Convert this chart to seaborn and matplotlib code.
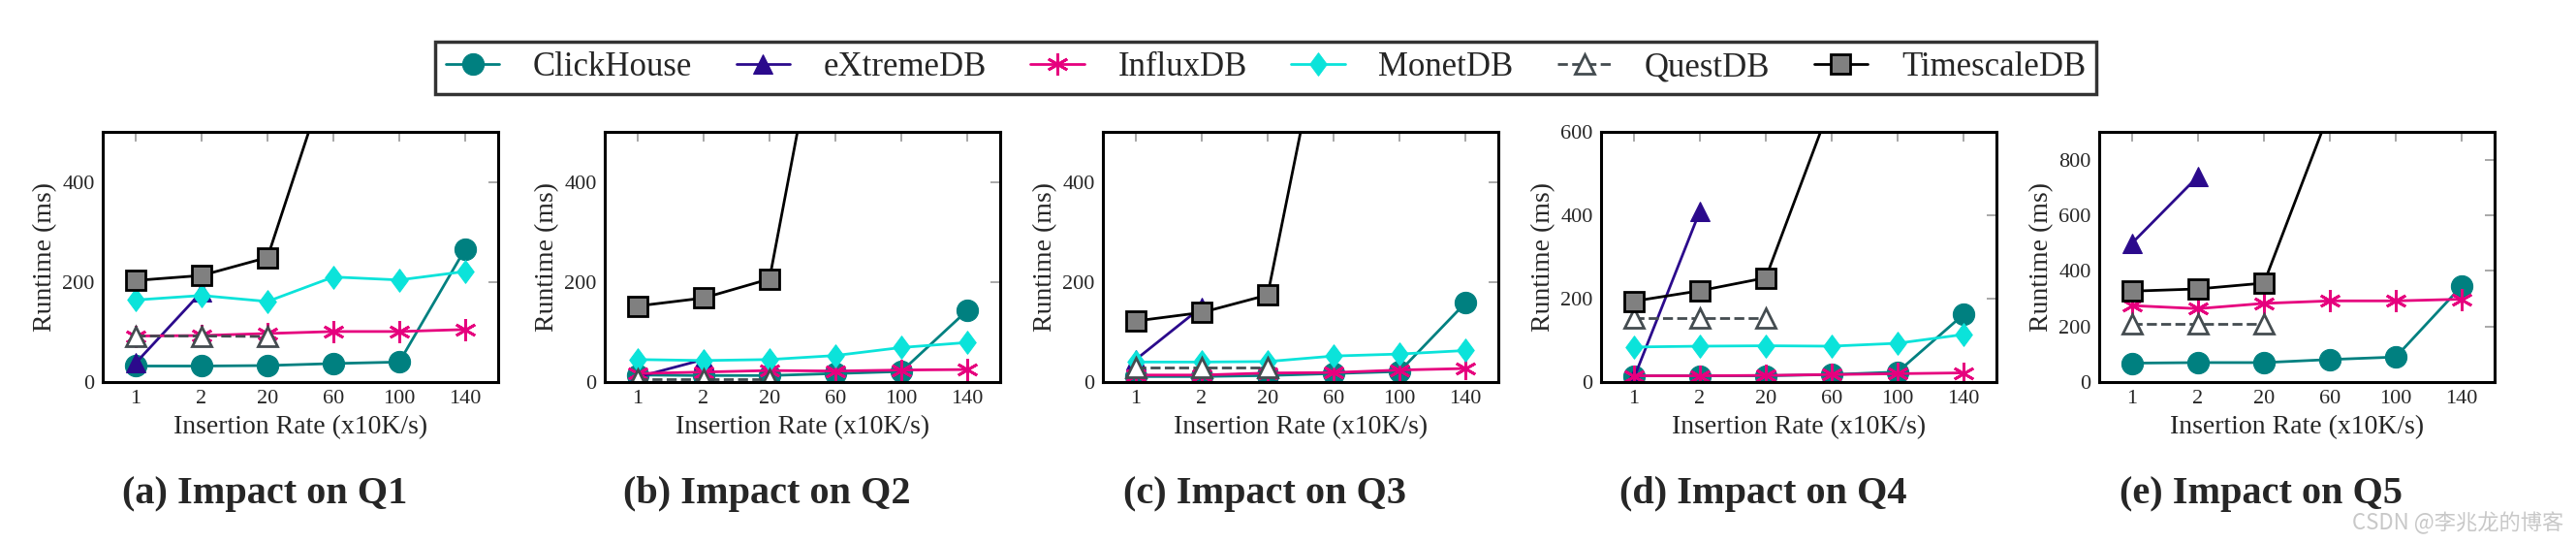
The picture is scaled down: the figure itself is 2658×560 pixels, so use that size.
import numpy as np
import matplotlib
matplotlib.use("Agg")
import matplotlib.pyplot as plt
from matplotlib.path import Path
import seaborn as sns

sns.set_style("white")
plt.rcParams["font.family"] = ["Liberation Serif", "DejaVu Serif"]

nan = np.nan

# x categories (insertion rate, x10K/s)
rates = ["1", "2", "20", "60", "100", "140"]
captions = ["(a) Impact on Q1", "(b) Impact on Q2", "(c) Impact on Q3",
            "(d) Impact on Q4", "(e) Impact on Q5"]
ymax = [500, 500, 500, 600, 900]
yticks = [[0, 200, 400], [0, 200, 400], [0, 200, 400],
          [0, 200, 400, 600], [0, 200, 400, 600, 800]]

# runtime (ms), one row per query Q1..Q5
clickhouse = [[32, 32, 33, 37, 40, 266],
              [14, 13, 13, 17, 21, 143],
              [11, 11, 13, 17, 21, 158],
              [15, 15, 15, 18, 24, 162],
              [68, 70, 70, 81, 90, 345]]
extremedb = [[38, 180, nan, nan, nan, nan],
             [10, 45, nan, nan, nan, nan],
             [45, 150, nan, nan, nan, nan],
             [10, 410, nan, nan, nan, nan],
             [500, 740, nan, nan, nan, nan]]
influxdb = [[92, 93, 97, 101, 101, 105],
            [17, 20, 23, 22, 24, 25],
            [14, 14, 18, 19, 24, 27],
            [15, 15, 16, 18, 20, 22],
            [275, 264, 283, 292, 292, 298]]
monetdb = [[164, 173, 161, 210, 204, 221],
           [45, 43, 45, 53, 69, 79],
           [40, 40, 41, 52, 56, 63],
           [84, 86, 87, 86, 93, 114],
           [nan, nan, nan, nan, nan, nan]]
questdb = [[92, 92, 91, nan, nan, nan],
           [6, 6, 6, nan, nan, nan],
           [29, 29, 29, nan, nan, nan],
           [153, 153, 153, nan, nan, nan],
           [211, 211, 211, nan, nan, nan]]
timescaledb = [[203, 213, 249, 650, 1100, 1600],
               [152, 168, 206, 900, 1400, 1900],
               [122, 139, 174, 826, 1300, 1800],
               [194, 219, 250, 671, 1100, 1600],
               [327, 335, 356, 976, 1500, 2000]]

diamond = Path([(0, 1), (0.74, 0), (0, -1), (-0.74, 0), (0, 1)],
               [Path.MOVETO, Path.LINETO, Path.LINETO, Path.LINETO, Path.CLOSEPOLY])

styles = [
    ("ClickHouse", clickhouse, dict(color="#008080", marker="o", markersize=16,
                                    markerfacecolor="#008080", markeredgecolor="#008080")),
    ("eXtremeDB", extremedb, dict(color="#2b0a8c", marker="^", markersize=15,
                                  markerfacecolor="#2b0a8c", markeredgecolor="#2b0a8c")),
    ("InfluxDB", influxdb, dict(color="#e6007e", marker=(6, 2, 0), markersize=16,
                                markeredgecolor="#e6007e", markeredgewidth=2)),
    ("MonetDB", monetdb, dict(color="#0be3da", marker=diamond, markersize=17,
                              markerfacecolor="#0be3da", markeredgecolor="#0be3da")),
    ("QuestDB", questdb, dict(color="#444c50", marker="^", markersize=15, linestyle="--",
                              markerfacecolor="white", markeredgecolor="#444c50",
                              markeredgewidth=2)),
    ("TimescaleDB", timescaledb, dict(color="black", marker="s", markersize=15,
                                      markerfacecolor="#808080", markeredgecolor="black",
                                      markeredgewidth=2)),
]

W, H = 2658, 560
fig = plt.figure(figsize=(W / 100, H / 100), dpi=100)
lefts = [106, 624, 1138, 1652, 2166]
x = np.arange(len(rates))

for q, left in enumerate(lefts):
    ax = fig.add_axes([left / W, (H - 394) / H, 408 / W, 258 / H])
    for name, data, kw in styles:
        sns.lineplot(x=x, y=np.array(data[q], dtype=float), ax=ax, label=name,
                     legend=False, linewidth=2, **kw)
    ax.set_xlim(-0.5, 5.5)
    ax.set_ylim(0, ymax[q])
    ax.set_xticks(x)
    ax.set_xticklabels(rates)
    ax.set_yticks(yticks[q])
    ax.tick_params(direction="in", length=7, width=1.2, color="#999999",
                   top=True, right=True, labelsize=16, pad=6)
    for s in ax.spines.values():
        s.set_linewidth(2.2)
        s.set_color("black")
    ax.set_xlabel("Insertion Rate (x10K/s)", fontsize=20, labelpad=5)
    ax.set_ylabel("Runtime (ms)", fontsize=20, labelpad=4)
    fig.text((left + 167) / W, 1 - 510 / H, captions[q], fontsize=29,
             fontweight="bold", ha="center", va="center")
    if q == 0:
        handles, labels = ax.get_legend_handles_labels()

leg = fig.legend(handles, labels, loc="center", bbox_to_anchor=(1306 / W, 1 - 70 / H),
                 ncol=6, fontsize=25, frameon=True, fancybox=False, edgecolor="black",
                 handlelength=1.6, handletextpad=1.0, columnspacing=1.3,
                 borderpad=0.3)
leg.get_frame().set_linewidth(2.5)

fig.text(2645 / W, 1 - 539 / H, "CSDN @李兆龙的博客", fontsize=16, color="#c8c8c8",
         ha="right", va="center", family=["Noto Sans CJK SC", "DejaVu Sans"])

fig.savefig("out.png", dpi=100)
